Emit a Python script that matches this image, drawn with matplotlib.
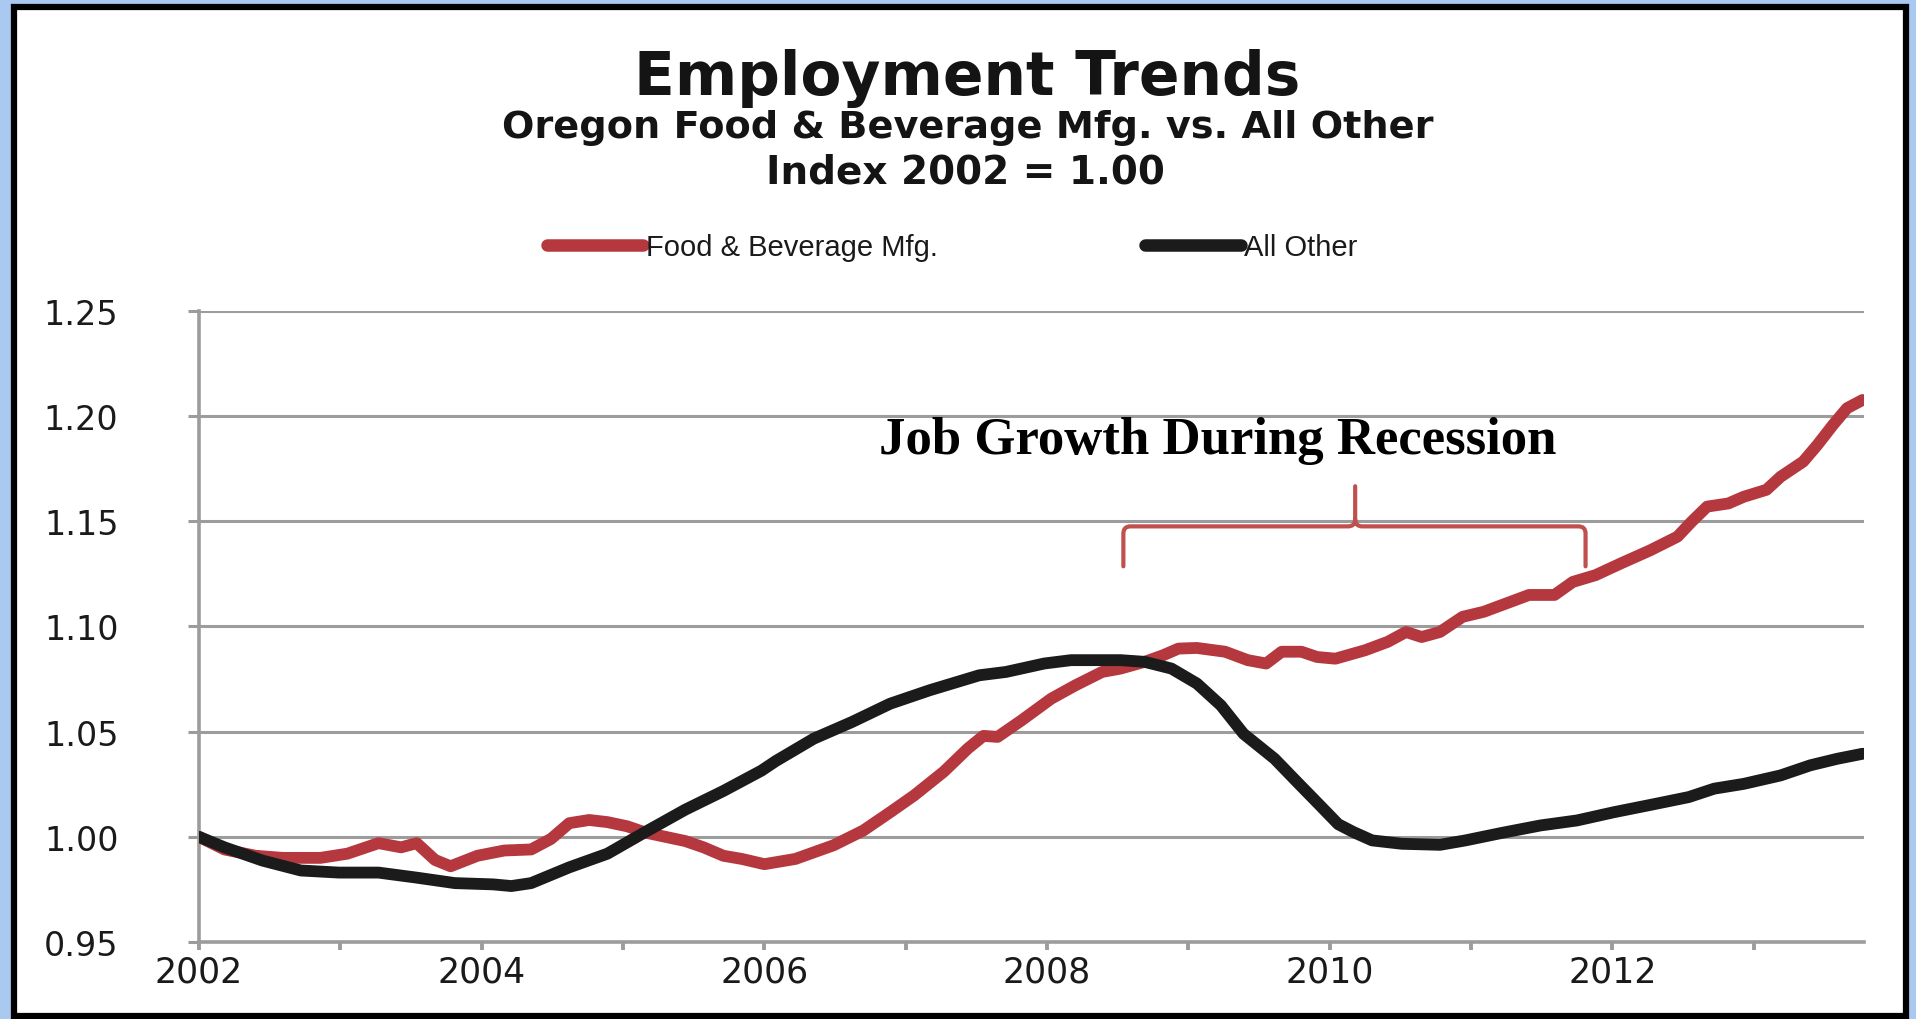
import matplotlib
matplotlib.use("Agg")
import matplotlib.pyplot as plt
from matplotlib.lines import Line2D
from matplotlib.patches import Rectangle, PathPatch
from matplotlib.path import Path

# ---------------- data ----------------
food_x = [2002.00, 2002.18, 2002.40, 2002.59, 2002.86, 2003.05, 2003.27, 2003.43, 2003.54,
          2003.67, 2003.78, 2003.97, 2004.16, 2004.35, 2004.49, 2004.62, 2004.76, 2004.89,
          2005.03, 2005.16, 2005.30, 2005.44, 2005.57, 2005.71, 2005.84, 2006.00, 2006.22,
          2006.49, 2006.70, 2006.89, 2007.06, 2007.27, 2007.44, 2007.55, 2007.65, 2007.82,
          2008.03, 2008.20, 2008.39, 2008.52, 2008.69, 2008.82, 2008.93, 2009.06, 2009.26,
          2009.42, 2009.55, 2009.66, 2009.80, 2009.91, 2010.04, 2010.25, 2010.41, 2010.54,
          2010.65, 2010.78, 2010.94, 2011.09, 2011.25, 2011.41, 2011.59, 2011.72, 2011.88,
          2012.06, 2012.27, 2012.46, 2012.56, 2012.67, 2012.82, 2012.93, 2013.09, 2013.19,
          2013.35, 2013.45, 2013.56, 2013.66, 2013.77]
food_y = [1.000, 0.994, 0.991, 0.990, 0.990, 0.992, 0.997, 0.995, 0.997,
          0.989, 0.986, 0.991, 0.9935, 0.994, 0.999, 1.0065, 1.008, 1.007,
          1.005, 1.002, 1.000, 0.998, 0.995, 0.991, 0.9895, 0.987, 0.9895,
          0.996, 1.003, 1.0117, 1.0197, 1.031, 1.042, 1.048, 1.0475, 1.0554,
          1.0657, 1.072, 1.0784, 1.080, 1.0832, 1.0863, 1.0895, 1.0898, 1.088,
          1.084, 1.0824, 1.088, 1.088, 1.0855, 1.0847, 1.0887, 1.0927, 1.0974,
          1.095, 1.0974, 1.1046, 1.107, 1.111, 1.115, 1.115, 1.1212, 1.1244,
          1.130, 1.1363, 1.1427, 1.1498, 1.157, 1.1585, 1.1617, 1.165, 1.1712,
          1.1784, 1.1863, 1.1958, 1.2038, 1.2077]

other_x = [2002.00, 2002.18, 2002.45, 2002.72, 2002.99, 2003.27, 2003.54, 2003.81, 2004.08,
           2004.21, 2004.35, 2004.62, 2004.89, 2005.16, 2005.44, 2005.71, 2005.98, 2006.08,
           2006.35, 2006.62, 2006.89, 2007.17, 2007.52, 2007.71, 2007.98, 2008.17, 2008.52,
           2008.69, 2008.88, 2009.06, 2009.23, 2009.39, 2009.61, 2009.77, 2009.93, 2010.06,
           2010.17, 2010.30, 2010.51, 2010.78, 2010.96, 2011.22, 2011.49, 2011.75, 2012.01,
           2012.27, 2012.54, 2012.72, 2012.93, 2013.19, 2013.40, 2013.59, 2013.77]
other_y = [1.000, 0.995, 0.9887, 0.984, 0.983, 0.983, 0.9806, 0.978, 0.9774,
           0.9766, 0.978, 0.9855, 0.992, 1.0024, 1.0129, 1.0218, 1.0315, 1.036,
           1.0467, 1.0546, 1.0633, 1.0697, 1.0768, 1.0784, 1.0824, 1.084, 1.084,
           1.0832, 1.080, 1.0729, 1.0625, 1.049, 1.0371, 1.026, 1.015, 1.006,
           1.0022, 0.9983, 0.9967, 0.9962, 0.9983, 1.0019, 1.0054, 1.0078, 1.0117,
           1.0152, 1.0189, 1.0229, 1.0252, 1.0292, 1.034, 1.0371, 1.0395]

series_names = ["Food & Beverage Mfg.", "All Other"]
y_ticks = [0.95, 1.00, 1.05, 1.10, 1.15, 1.20, 1.25]
x_ticks = list(range(2002, 2014))
x_labels = [str(y) if y % 2 == 0 else "" for y in x_ticks]

title = "Employment Trends"
subtitle1 = "Oregon Food & Beverage Mfg. vs. All Other"
subtitle2 = "Index 2002 = 1.00"
annotation = "Job Growth During Recession"
# brace spanning the recession period (x in years, y in index units)
brace_x = (2008.54, 2010.18, 2011.81)
brace_y = (1.1286, 1.1476, 1.1667)

# ---------------- styling ----------------
RED = "#B5383F"
BLACK = "#1b1b1b"
GRID = "#9c9c9c"
BRACE = "#C0504D"

fig = plt.figure(figsize=(19.16, 10.20), dpi=100)
fig.patch.set_facecolor("#A9C9F1")
fig.patches.append(Rectangle((14 / 1916, 1 - 1017 / 1020), (1906 - 14) / 1916,
                             (1017 - 7.5) / 1020, transform=fig.transFigure,
                             facecolor="white", edgecolor="black", linewidth=4.5,
                             zorder=-5))

ax = fig.add_axes([199 / 1916, 1 - 943 / 1020, (1864 - 199) / 1916, (943 - 312) / 1020])
ax.set_facecolor("white")

ax.plot(food_x, food_y, color=RED, lw=8.5, solid_capstyle="round",
        solid_joinstyle="round", zorder=3, label=series_names[0])
ax.plot(other_x, other_y, color=BLACK, lw=8.5, solid_capstyle="round",
        solid_joinstyle="round", zorder=4, label=series_names[1])

ax.set_xlim(2002, 2013.78)
ax.set_ylim(0.95, 1.25)
ax.set_yticks(y_ticks)
ax.set_yticklabels([f"{v:.2f}" for v in y_ticks])
ax.set_xticks(x_ticks)
ax.set_xticklabels(x_labels)

ax.grid(axis="y", color=GRID, lw=2.2, zorder=1)
for s in ["top", "right"]:
    ax.spines[s].set_visible(False)
for s in ["left", "bottom"]:
    ax.spines[s].set_color(GRID)
    ax.spines[s].set_linewidth(2.6)
    ax.spines[s].set_zorder(2)

ax.tick_params(axis="y", length=8, width=2.2, color=GRID, pad=50,
               labelsize=24, labelcolor="#1a1a1a")
ax.tick_params(axis="x", length=6, width=2.8, color=GRID, pad=3,
               labelsize=25, labelcolor="#1a1a1a")
for lab in ax.get_xticklabels() + ax.get_yticklabels():
    lab.set_fontfamily("DejaVu Sans")

# brace annotation
xL, xC, xR = brace_x
yB, yH, yP = brace_y
rx, ry = 0.05, 0.0034
verts = [(xL, yB), (xL, yH - ry), (xL, yH), (xL + rx, yH), (xC - rx, yH), (xC, yH),
         (xC, yH + ry), (xC, yP),
         (xC, yH + ry), (xC, yH), (xC + rx, yH), (xR - rx, yH), (xR, yH),
         (xR, yH - ry), (xR, yB)]
codes = [Path.MOVETO, Path.LINETO, Path.CURVE3, Path.CURVE3, Path.LINETO, Path.CURVE3,
         Path.CURVE3, Path.LINETO,
         Path.MOVETO, Path.CURVE3, Path.CURVE3, Path.LINETO, Path.CURVE3,
         Path.CURVE3, Path.LINETO]
ax.add_patch(PathPatch(Path(verts, codes), facecolor="none", edgecolor=BRACE,
                       lw=3.0, capstyle="round", joinstyle="round", zorder=5))

ax.text(2009.21, 1.1824, annotation, ha="center", va="baseline",
        fontfamily="Liberation Serif", fontweight="bold", fontsize=38, color="black",
        zorder=6)

# titles
fig.text(0.505, 1 - 95 / 1020, title, ha="center", va="baseline",
         fontfamily="DejaVu Sans", fontweight="bold", fontsize=43, color="#141414")
fig.text(0.505, 1 - 138 / 1020, subtitle1, ha="center", va="baseline",
         fontfamily="DejaVu Sans", fontweight="bold", fontsize=27.5, color="#141414")
fig.text(0.504, 1 - 183 / 1020, subtitle2, ha="center", va="baseline",
         fontfamily="DejaVu Sans", fontweight="bold", fontsize=28, color="#141414")

# legend
handles = [Line2D([], [], color=RED, lw=9, solid_capstyle="round"),
           Line2D([], [], color=BLACK, lw=9, solid_capstyle="round")]
leg = fig.legend(handles, series_names, loc="center", bbox_to_anchor=(952 / 1916, 1 - 248 / 1020),
                 ncol=2, frameon=False, handlelength=3.3, handletextpad=0.1,
                 columnspacing=7.1, prop={"family": "Liberation Sans", "size": 21})
for t in leg.get_texts():
    t.set_color("#1a1a1a")

fig.savefig("out.png", dpi=100, facecolor=fig.get_facecolor())
